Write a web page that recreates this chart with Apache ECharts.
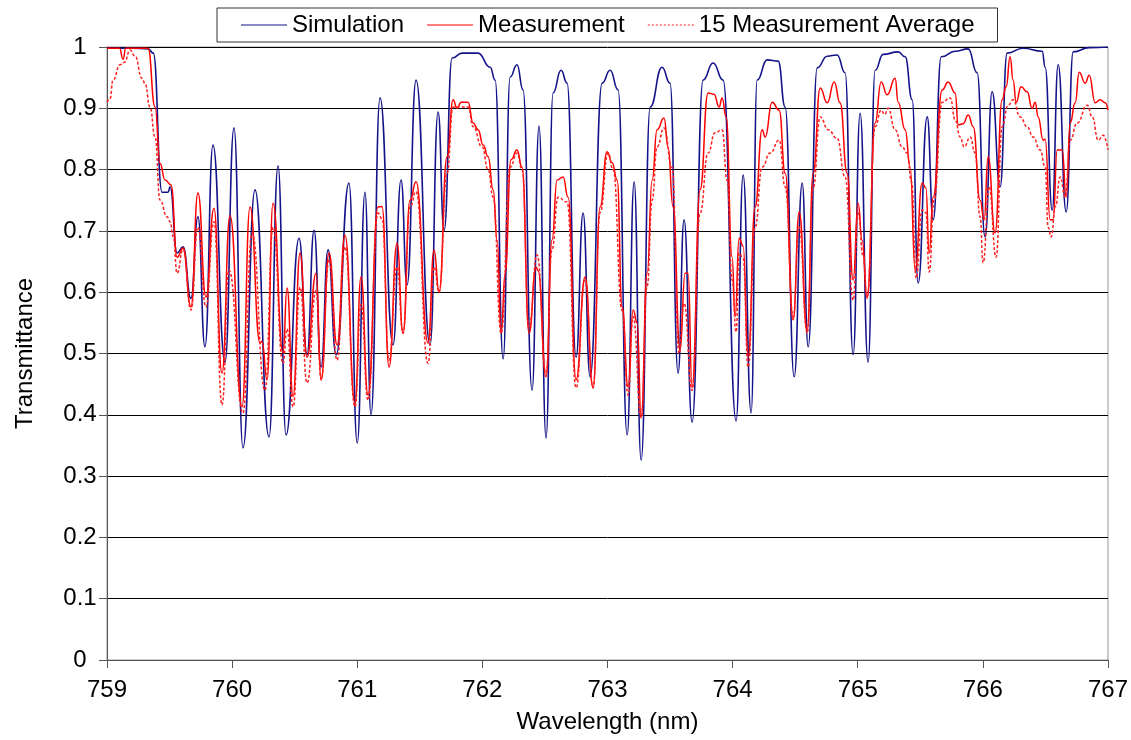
<!DOCTYPE html>
<html>
<head>
<meta charset="utf-8">
<script src="https://cdn.jsdelivr.net/npm/echarts@6/dist/echarts.min.js"></script>
<style>
html,body{margin:0;padding:0;background:#fff;}
#chart{width:1131px;height:740px;}
</style>
</head>
<body>
<div id="chart"></div>
<script>
// ---- Data (wavelength in nm, transmittance) ----
const simWavelength = [759.000,759.200,759.330,759.370,759.440,759.488,759.504,759.560,759.608,759.671,759.727,759.783,759.847,759.943,760.015,760.087,760.183,760.295,760.367,760.431,760.535,760.599,760.655,760.711,760.767,760.831,760.934,761.000,761.062,761.110,761.182,761.286,761.350,761.398,761.470,761.582,761.646,761.694,761.758,761.838,761.966,762.062,762.102,762.166,762.222,762.277,762.325,762.397,762.453,762.509,762.565,762.629,762.677,762.749,762.805,762.861,762.957,763.021,763.085,763.157,763.213,763.269,763.341,763.436,763.500,763.564,763.612,763.676,763.764,763.844,763.924,764.028,764.084,764.148,764.196,764.276,764.364,764.420,764.492,764.556,764.604,764.676,764.756,764.835,764.899,764.963,765.019,765.083,765.139,765.203,765.323,765.379,765.435,765.483,765.555,765.603,765.667,765.779,765.883,765.954,766.018,766.074,766.138,766.194,766.322,766.474,766.498,766.554,766.602,766.666,766.722,766.850,767.000];
const simTransmittance = [0.998,0.998,0.997,0.990,0.763,0.763,0.772,0.664,0.674,0.590,0.723,0.511,0.840,0.486,0.868,0.346,0.767,0.364,0.806,0.367,0.688,0.498,0.701,0.478,0.669,0.498,0.778,0.354,0.763,0.400,0.917,0.514,0.783,0.612,0.946,0.514,0.894,0.701,0.982,0.990,0.990,0.967,0.946,0.491,0.951,0.971,0.930,0.440,0.871,0.362,0.925,0.962,0.941,0.494,0.729,0.462,0.941,0.962,0.930,0.367,0.780,0.326,0.902,0.967,0.941,0.468,0.718,0.388,0.946,0.974,0.946,0.390,0.791,0.403,0.946,0.979,0.977,0.902,0.462,0.778,0.511,0.966,0.985,0.987,0.958,0.498,0.892,0.486,0.962,0.988,0.992,0.984,0.914,0.615,0.886,0.718,0.984,0.993,0.997,0.958,0.690,0.927,0.772,0.990,0.998,0.993,0.967,0.734,0.971,0.731,0.992,0.999,1.000];

const measWavelength = [759.000,759.100,759.128,759.150,759.328,759.384,759.424,759.464,759.512,759.560,759.608,759.671,759.727,759.791,759.855,759.919,759.983,760.079,760.143,760.223,760.239,760.279,760.327,760.407,760.439,760.487,760.543,760.599,760.671,760.711,760.775,760.839,760.902,760.982,761.030,761.086,761.166,761.198,761.254,761.318,761.366,761.422,761.470,761.566,761.614,761.654,761.718,761.766,761.798,761.830,761.886,761.926,761.966,762.006,762.046,762.086,762.118,762.150,762.182,762.229,762.277,762.317,762.373,762.429,762.445,762.509,762.557,762.597,762.645,762.685,762.749,762.821,762.885,762.941,762.997,763.037,763.077,763.117,763.165,763.205,763.237,763.269,763.317,763.357,763.396,763.452,763.484,763.524,763.580,763.620,763.644,763.676,763.740,763.804,763.852,763.892,763.916,763.948,763.996,764.020,764.052,764.084,764.124,764.180,764.236,764.260,764.316,764.372,764.420,764.484,764.532,764.596,764.644,764.700,764.756,764.812,764.859,764.915,764.963,765.003,765.035,765.075,765.139,765.187,765.235,765.299,765.323,765.379,765.419,765.459,765.515,765.545,765.571,765.603,765.675,765.723,765.779,765.803,765.843,765.883,765.923,765.978,766.010,766.042,766.098,766.154,766.186,766.218,766.242,766.266,766.306,766.354,766.394,766.418,766.442,766.482,766.498,766.538,766.562,766.594,766.634,766.666,766.698,766.738,766.770,766.818,766.850,766.898,766.938,766.978,767.000];
const measTransmittance = [0.998,0.998,0.980,0.998,0.998,0.902,0.810,0.783,0.775,0.657,0.672,0.576,0.762,0.592,0.737,0.468,0.725,0.413,0.739,0.517,0.520,0.457,0.745,0.501,0.607,0.430,0.664,0.494,0.631,0.457,0.664,0.514,0.693,0.419,0.625,0.432,0.739,0.740,0.478,0.680,0.533,0.750,0.780,0.517,0.669,0.600,0.821,0.914,0.900,0.910,0.910,0.876,0.865,0.840,0.821,0.767,0.685,0.533,0.631,0.816,0.832,0.804,0.533,0.641,0.635,0.462,0.685,0.783,0.788,0.755,0.457,0.625,0.444,0.739,0.829,0.811,0.783,0.576,0.445,0.571,0.550,0.396,0.631,0.783,0.865,0.884,0.837,0.739,0.506,0.631,0.631,0.444,0.767,0.925,0.923,0.902,0.917,0.886,0.657,0.560,0.688,0.675,0.494,0.739,0.865,0.853,0.910,0.897,0.794,0.555,0.731,0.538,0.794,0.933,0.909,0.943,0.909,0.794,0.620,0.745,0.685,0.590,0.876,0.943,0.922,0.949,0.910,0.865,0.804,0.636,0.778,0.770,0.664,0.755,0.930,0.943,0.925,0.873,0.875,0.889,0.870,0.750,0.718,0.821,0.697,0.914,0.935,0.984,0.946,0.910,0.935,0.927,0.900,0.910,0.886,0.848,0.850,0.718,0.718,0.832,0.832,0.755,0.876,0.909,0.959,0.941,0.954,0.909,0.914,0.909,0.897];

const avgWavelength = [759.000,759.024,759.048,759.104,759.140,759.184,759.224,759.280,759.304,759.344,759.384,759.424,759.480,759.504,759.530,759.560,759.608,759.671,759.727,759.791,759.855,759.919,759.975,760.087,760.159,760.263,760.327,760.407,760.439,760.487,760.543,760.599,760.671,760.711,760.775,760.839,760.902,760.982,761.030,761.086,761.166,761.198,761.254,761.318,761.366,761.422,761.470,761.566,761.614,761.654,761.718,761.766,761.830,761.886,761.926,761.998,762.046,762.086,762.150,762.222,762.277,762.317,762.373,762.437,762.509,762.557,762.605,762.677,762.749,762.821,762.885,762.941,763.005,763.045,763.117,763.165,763.205,763.269,763.317,763.357,763.396,763.452,763.516,763.572,763.612,763.676,763.740,763.804,763.860,763.916,763.956,763.996,764.028,764.052,764.084,764.124,764.180,764.236,764.300,764.372,764.420,764.484,764.532,764.596,764.644,764.700,764.764,764.835,764.899,764.963,765.003,765.043,765.075,765.139,765.187,765.215,765.243,765.299,765.355,765.395,765.430,765.467,765.515,765.545,765.571,765.610,765.675,765.739,765.779,765.819,765.851,765.899,765.938,765.978,766.002,766.050,766.106,766.154,766.202,766.242,766.298,766.354,766.402,766.458,766.498,766.522,766.546,766.580,766.618,766.658,766.698,766.754,766.834,766.874,766.922,766.962,767.000];
const avgTransmittance = [0.910,0.915,0.946,0.971,0.975,0.995,0.985,0.949,0.940,0.902,0.853,0.750,0.723,0.715,0.690,0.631,0.670,0.571,0.706,0.576,0.715,0.416,0.636,0.403,0.697,0.440,0.706,0.484,0.540,0.413,0.608,0.452,0.603,0.457,0.653,0.489,0.674,0.413,0.580,0.424,0.729,0.720,0.489,0.641,0.533,0.739,0.764,0.484,0.641,0.600,0.794,0.902,0.902,0.902,0.870,0.837,0.800,0.755,0.533,0.804,0.827,0.800,0.543,0.661,0.468,0.670,0.755,0.747,0.444,0.620,0.444,0.730,0.827,0.800,0.570,0.432,0.560,0.395,0.610,0.750,0.837,0.868,0.804,0.500,0.582,0.440,0.729,0.827,0.860,0.865,0.783,0.620,0.535,0.664,0.655,0.478,0.706,0.804,0.827,0.848,0.772,0.560,0.706,0.533,0.770,0.886,0.865,0.851,0.788,0.587,0.729,0.660,0.593,0.870,0.897,0.890,0.900,0.865,0.837,0.827,0.780,0.623,0.734,0.730,0.633,0.750,0.910,0.917,0.881,0.853,0.837,0.853,0.827,0.723,0.648,0.772,0.657,0.870,0.905,0.914,0.886,0.870,0.853,0.832,0.804,0.706,0.690,0.740,0.788,0.755,0.848,0.876,0.905,0.886,0.848,0.856,0.832];

const xTicks = [759, 760, 761, 762, 763, 764, 765, 766, 767];
const yTicks = [0, 0.1, 0.2, 0.3, 0.4, 0.5, 0.6, 0.7, 0.8, 0.9, 1];
const seriesNames = ['Simulation', 'Measurement', '15 Measurement Average'];

function zip(xs, ys) { return xs.map((x, i) => [x, ys[i]]); }

// legend icons: solid bar and dashed bar (46 units wide, 1 unit tall)
const solidIcon = 'path://M0,0h46v1h-46z';
let dashPath = 'path://';
for (let i = 0; i < 12; i++) dashPath += 'M' + (i * 4) + ',0h2v1h-2z';
const dashIcon = dashPath;

const FONT = 'Liberation Sans';
const chart = echarts.init(document.getElementById('chart'), null, { renderer: 'canvas' });
chart.setOption({
  animation: false,
  backgroundColor: '#fff',
  textStyle: { fontFamily: FONT, color: '#000' },
  grid: { left: 107, right: 23, top: 47, bottom: 80, show: true, borderColor: '#999', borderWidth: 1, containLabel: false },
  legend: {
    left: 217, top: 8,
    padding: [5, 23, 5, 24],
    borderColor: '#333', borderWidth: 1,
    itemWidth: 46, itemHeight: 2, itemGap: 23,
    textStyle: { fontFamily: FONT, fontSize: 24, color: '#000' },
    data: [
      { name: seriesNames[0], icon: solidIcon },
      { name: seriesNames[1], icon: solidIcon },
      { name: seriesNames[2], icon: dashIcon }
    ]
  },
  xAxis: {
    type: 'value', min: xTicks[0], max: xTicks[xTicks.length - 1], interval: 1,
    name: 'Wavelength (nm)', nameLocation: 'middle', nameGap: 50,
    nameTextStyle: { fontFamily: FONT, fontSize: 24, color: '#000' },
    axisLine: { show: true, onZero: false, lineStyle: { color: '#555', width: 1 } },
    axisTick: { show: true, length: 8, inside: false, lineStyle: { color: '#555' } },
    axisLabel: { fontFamily: FONT, fontSize: 24, color: '#000', margin: 18 },
    splitLine: { show: false }
  },
  yAxis: {
    type: 'value', min: yTicks[0], max: yTicks[yTicks.length - 1], interval: 0.1,
    name: 'Transmittance', nameLocation: 'middle', nameGap: 70, nameRotate: 90,
    nameTextStyle: { fontFamily: FONT, fontSize: 24, color: '#000' },
    axisLine: { show: true, lineStyle: { color: '#555', width: 1 } },
    axisTick: { show: true, length: 8, inside: false, lineStyle: { color: '#555' } },
    axisLabel: { fontFamily: FONT, fontSize: 24, color: '#000', margin: 27, align: 'center',
      formatter: v => String(Math.round(v * 10) / 10) },
    splitLine: { show: true, lineStyle: { color: '#000', width: 1 } }
  },
  series: [
    { name: seriesNames[0], type: 'line', data: zip(simWavelength, simTransmittance),
      symbol: 'none', smooth: 0.5, smoothMonotone: 'x', clip: true,
      lineStyle: { color: '#14148a', width: 1.6 }, itemStyle: { color: '#14148a' }, z: 3 },
    { name: seriesNames[1], type: 'line', data: zip(measWavelength, measTransmittance),
      symbol: 'none', smooth: 0.5, smoothMonotone: 'x', clip: true,
      lineStyle: { color: '#ff0000', width: 1.5 }, itemStyle: { color: '#ff0000' }, z: 4 },
    { name: seriesNames[2], type: 'line', data: zip(avgWavelength, avgTransmittance),
      symbol: 'none', smooth: 0.5, smoothMonotone: 'x', clip: true,
      lineStyle: { color: '#ff2020', width: 1.5, type: [3, 2] }, itemStyle: { color: '#ff2020' }, z: 5 }
  ]
});
</script>
</body>
</html>
